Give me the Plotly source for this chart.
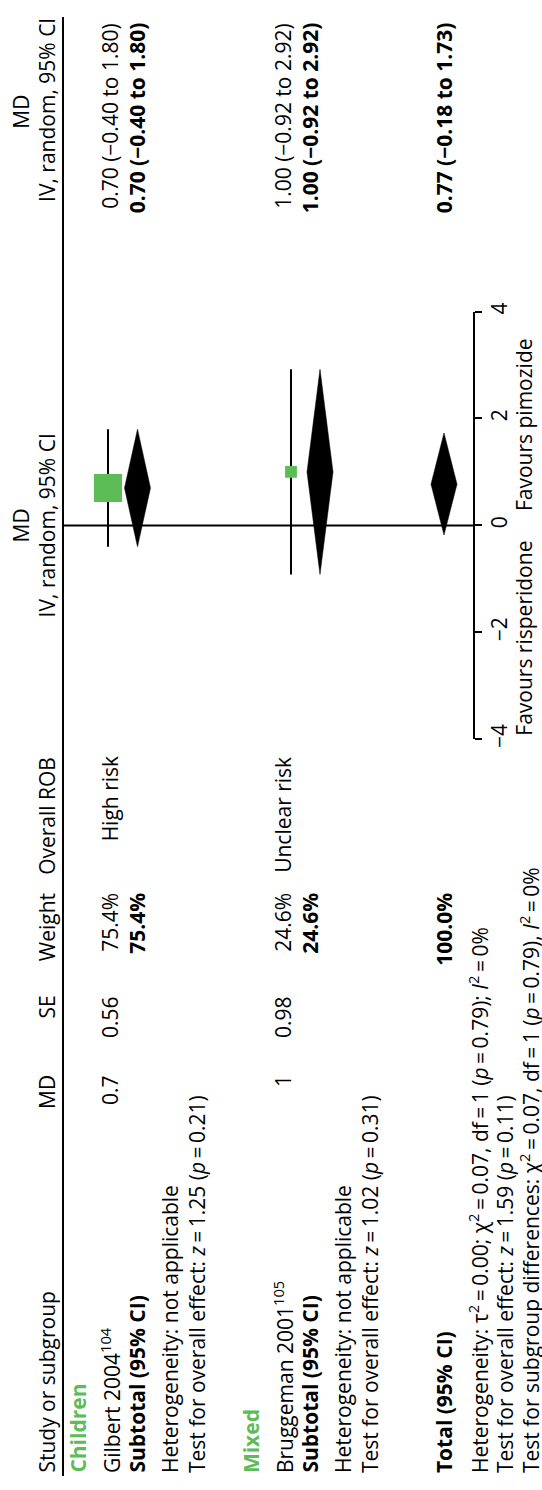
import plotly.graph_objects as go

# ---------------- data ----------------
subgroups = ["Children", "Mixed"]
studies = ["Gilbert 2004", "Bruggeman 2001"]
study_refs = ["104", "105"]
study_md = [0.7, 1.0]
study_se = [0.56, 0.98]
study_weight = [75.4, 24.6]
study_rob = ["High risk", "Unclear risk"]
study_ci_low = [-0.40, -0.92]
study_ci_high = [1.80, 2.92]

sub_md = [0.70, 1.00]
sub_low = [-0.40, -0.92]
sub_high = [1.80, 2.92]
sub_weight = [75.4, 24.6]
sub_z = [1.25, 1.02]
sub_p = [0.21, 0.31]

total_md = 0.77
total_low = -0.18
total_high = 1.73
total_weight = 100.0
total_z = 1.59
total_p = 0.11
het_tau2 = 0.00
het_chi2 = 0.07
het_df = 1
het_p = 0.79
het_i2 = 0
diff_chi2 = 0.07
diff_df = 1
diff_p = 0.79
diff_i2 = 0

axis_ticks = [-4, -2, 0, 2, 4]
fav_left = "Favours risperidone"
fav_right = "Favours pimozide"

# ---------------- layout (pixel geometry, figure is drawn rotated) ----------------
W, H = 542, 1490
FONT = "Open Sans"
FS = 21
GREEN = "#5cbd56"
TS = "\u2009"  # thin space
MINUS = "\u2212"

# row centres (x pixels)
X_HEAD1, X_HEAD2 = 21, 47
X_GROUP = [78, 251]
X_STUDY = [110, 283]
X_SUB = [137, 310]
X_HET = [170, 343]
X_TEST = [197, 370]
X_TOTAL, X_THET, X_TTEST, X_TDIFF = 444, 478, 505, 529
# graphic positions (x pixels)
G_STUDY = [108, 291]
G_SUB = [137.5, 320]
G_TOTAL = 444
DIAM_HALF = 13

# column positions (y pixels)
Y_LEFT = 1483       # text start (left aligned)
Y_MD = 1078         # right aligned (top)
Y_SE = 998
Y_W = 894
Y_ROB = 756
Y_CI = 13
Y_CI_HEAD = 8
Y_CI_MD = 104
AXIS_X = 474
PIX0, PIX_PER = 522.7, 54.1   # md=0 pixel, px per unit
Y_TOP, Y_BOT = PIX0 - 4 * PIX_PER, PIX0 + 4 * PIX_PER


def py(p):
    return 1 - p / H


def fmt(v):
    return f"{v:.2f}".replace("-", MINUS)


annotations = []


def txt(x, ypix, text, anchor, bold=False, color="black"):
    if bold:
        text = f"<b>{text}</b>"
    annotations.append(dict(
        x=x, y=py(ypix), xref="x", yref="paper", text=text, showarrow=False,
        textangle=-90, xanchor="center", yanchor=anchor,
        font=dict(family=FONT, size=FS, color=color), borderpad=0,
    ))


# headers
txt(X_HEAD2, Y_LEFT, "Study or subgroup", "bottom")
txt(X_HEAD2, Y_MD, "MD", "top")
txt(X_HEAD2, Y_SE, "SE", "top")
txt(X_HEAD2, Y_W, "Weight", "top")
txt(X_HEAD2, Y_ROB, "Overall ROB", "top")
txt(X_HEAD1, PIX0, "MD", "middle")
txt(X_HEAD2, PIX0, "IV, random, 95% CI", "middle")
txt(X_HEAD1, Y_CI_MD, "MD", "middle")
txt(X_HEAD2, Y_CI_HEAD, "IV, random, 95% CI", "top")

for i in range(len(subgroups)):
    txt(X_GROUP[i], Y_LEFT, subgroups[i], "bottom", bold=True, color=GREEN)
    txt(X_STUDY[i], Y_LEFT, f"{studies[i]}<sup>{study_refs[i]}</sup>", "bottom")
    txt(X_STUDY[i], Y_MD, f"{study_md[i]:g}", "top")
    txt(X_STUDY[i], Y_SE, f"{study_se[i]:.2f}", "top")
    txt(X_STUDY[i], Y_W, f"{study_weight[i]:.1f}%", "top")
    txt(X_STUDY[i], Y_ROB, study_rob[i], "top")
    txt(X_STUDY[i], Y_CI,
        f"{fmt(study_md[i])} ({fmt(study_ci_low[i])} to {fmt(study_ci_high[i])})", "top")
    txt(X_SUB[i], Y_LEFT, "Subtotal (95% CI)", "bottom", bold=True)
    txt(X_SUB[i], Y_W, f"{sub_weight[i]:.1f}%", "top", bold=True)
    txt(X_SUB[i], Y_CI, f"{fmt(sub_md[i])} ({fmt(sub_low[i])} to {fmt(sub_high[i])})",
        "top", bold=True)
    txt(X_HET[i], Y_LEFT, "Heterogeneity: not applicable", "bottom")
    txt(X_TEST[i], Y_LEFT,
        f"Test for overall effect: <i>z</i>{TS}={TS}{sub_z[i]:.2f} (<i>p</i>{TS}={TS}{sub_p[i]:.2f})",
        "bottom")

txt(X_TOTAL, Y_LEFT, "Total (95% CI)", "bottom", bold=True)
txt(X_TOTAL, Y_W, f"{total_weight:.1f}%", "top", bold=True)
txt(X_TOTAL, Y_CI, f"{fmt(total_md)} ({fmt(total_low)} to {fmt(total_high)})", "top", bold=True)
txt(X_THET, Y_LEFT,
    f"Heterogeneity: τ<sup>2</sup>{TS}={TS}{het_tau2:.2f}; χ<sup>2</sup>{TS}={TS}{het_chi2:.2f}, "
    f"df{TS}={TS}{het_df} (<i>p</i>{TS}={TS}{het_p:.2f}); <i>I</i><sup>2</sup>{TS}={TS}{het_i2}%",
    "bottom")
txt(X_TTEST, Y_LEFT,
    f"Test for overall effect: <i>z</i>{TS}={TS}{total_z:.2f} (<i>p</i>{TS}={TS}{total_p:.2f})",
    "bottom")
txt(X_TDIFF, Y_LEFT,
    f"Test for subgroup differences: χ<sup>2</sup>{TS}={TS}{diff_chi2:.2f}, df{TS}={TS}{diff_df} "
    f"(<i>p</i>{TS}={TS}{diff_p:.2f}), <i>I</i><sup>2</sup>{TS}={TS}{diff_i2}%",
    "bottom")

# favours labels
txt(524, PIX0 + 15, fav_left, "top")
txt(524, PIX0 - 13, fav_right, "bottom")

fig = go.Figure()

# zero line
fig.add_trace(go.Scatter(x=[63, AXIS_X], y=[0, 0], mode="lines",
                         line=dict(color="black", width=2), hoverinfo="skip"))

# study CIs and squares
for i in range(len(studies)):
    fig.add_trace(go.Scatter(x=[G_STUDY[i], G_STUDY[i]], y=[study_ci_low[i], study_ci_high[i]],
                             mode="lines", line=dict(color="black", width=2), hoverinfo="skip"))
fig.add_trace(go.Scatter(
    x=G_STUDY, y=study_md, mode="markers", opacity=1,
    marker=dict(symbol="square", color=GREEN, opacity=1,
                size=[28 * (w / max(study_weight)) ** 0.77 for w in study_weight],
                line=dict(width=0)),
    hoverinfo="skip"))


# diamonds
def diamond(c, est, lo, hi):
    fig.add_trace(go.Scatter(
        x=[c, c + DIAM_HALF, c, c - DIAM_HALF, c], y=[lo, est, hi, est, lo],
        mode="lines", fill="toself", fillcolor="black",
        line=dict(color="black", width=0.5), hoverinfo="skip"))


for i in range(len(subgroups)):
    diamond(G_SUB[i], sub_md[i], sub_low[i], sub_high[i])
diamond(G_TOTAL, total_md, total_low, total_high)

fig.update_layout(
    width=W, height=H, margin=dict(l=0, r=0, t=0, b=0),
    paper_bgcolor="white", plot_bgcolor="white", showlegend=False,
    font=dict(family=FONT, size=FS, color="black"),
    xaxis=dict(range=[0, W], domain=[0, 1], visible=False, fixedrange=True),
    yaxis=dict(range=[-4, 4], domain=[py(Y_BOT), py(Y_TOP)], anchor="free",
               position=AXIS_X / W, side="right", showgrid=False, zeroline=False,
               showline=True, linecolor="black", linewidth=2,
               ticks="outside", ticklen=7, tickwidth=2, tickcolor="black",
               tickvals=axis_ticks, ticktext=[f"{t:g}".replace("-", MINUS) for t in axis_ticks],
               tickangle=-90, tickfont=dict(family=FONT, size=FS, color="black")),
    annotations=annotations,
    shapes=[dict(type="line", xref="x", yref="paper", x0=63, x1=63,
                 y0=py(1485), y1=py(8), line=dict(color="black", width=2))],
)

fig.write_html("out.html", config={"displayModeBar": False},
               post_script="document.body.style.margin='0';document.body.style.padding='0';")
